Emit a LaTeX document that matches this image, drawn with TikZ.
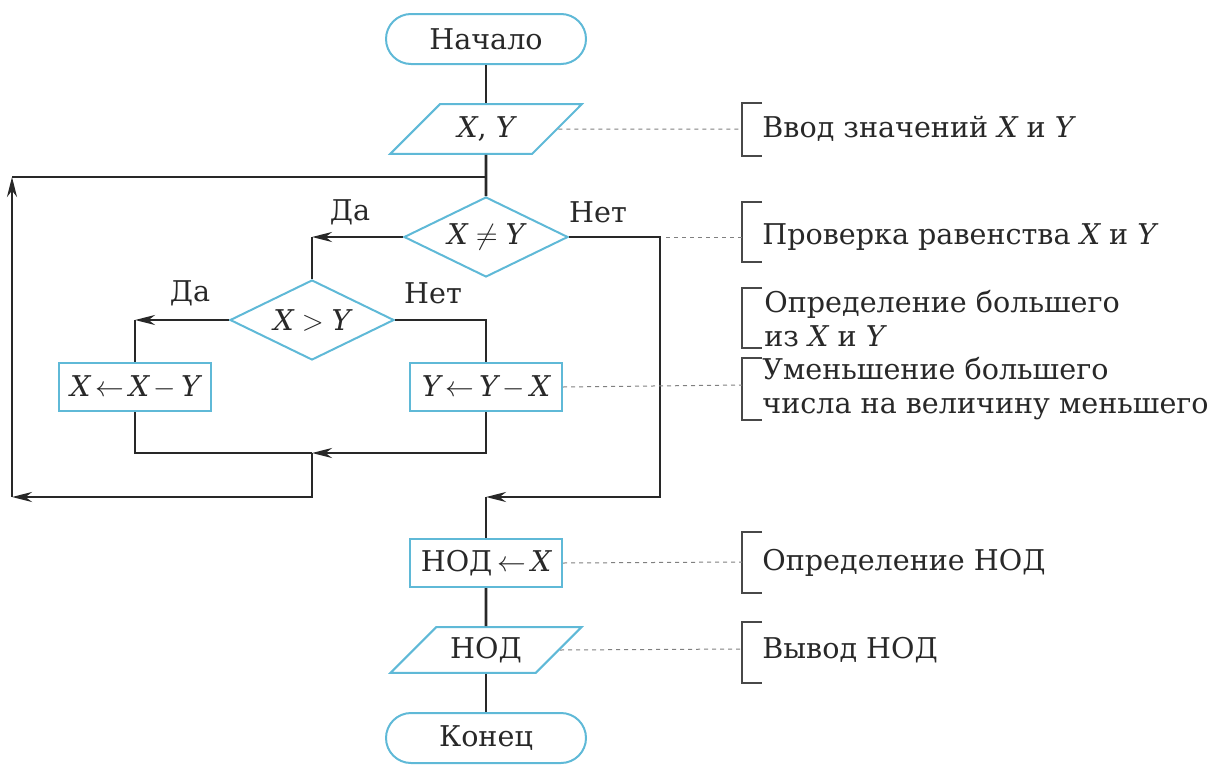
\documentclass[tikz,border=0pt]{standalone}
\usepackage{fontspec}
\setmainfont{DejaVu Serif}
\usetikzlibrary{shapes.geometric, arrows.meta}

\definecolor{shapeblue}{RGB}{95,185,215}
\definecolor{inkgray}{RGB}{40,40,40}

% italic variable names in the text font
\newcommand{\vX}{\mbox{\itshape X}}
\newcommand{\vY}{\mbox{\itshape Y}}

\tikzstyle{startstop} = [rectangle, rounded corners=12.5pt, minimum width=100pt, minimum height=25pt, text centered, draw=shapeblue, line width=1pt]
\tikzstyle{io} = [trapezium, trapezium left angle=45, trapezium right angle=135, minimum width=96pt, minimum height=22.5pt, text centered, draw=shapeblue, line width=1pt]
\tikzstyle{process} = [rectangle, minimum width=76pt, minimum height=24pt, inner sep=2pt, text centered, draw=shapeblue, line width=1pt]
\tikzstyle{decision} = [diamond, aspect=2, minimum width=82pt, minimum height=40pt, inner sep=0pt, text centered, draw=shapeblue, line width=1pt]
\tikzstyle{line} = [draw=inkgray, line width=1.4pt]
\tikzstyle{arrow} = [line, -{Stealth[length=10pt,width=5pt]}]
\tikzstyle{leader} = [draw=gray, line width=0.5pt, dash pattern=on 2pt off 2pt]
\tikzstyle{bracket} = [draw=inkgray!85, line width=1pt]
\tikzstyle{remark} = [anchor=west, align=left, inner sep=0pt]

\begin{document}
\begin{tikzpicture}[x=0.5pt, y=-0.5pt, font=\fontsize{14.3}{17}\selectfont, text=inkgray]
    \useasboundingbox (0,0) rectangle (1215,766);

    % blocks
    \node (start) [startstop] at (486,39) {Начало};
    \node (in) [io] at (486,129) {\vX, \vY};
    \node (neq) [decision] at (486,237) {\vX${}\neq{}$\vY};
    \node (gt) [decision] at (312,320) {\vX${}>{}$\vY};
    \node (subx) [process] at (135,387) {\vX\,$\leftarrow$\,\vX\,$-$\,\vY};
    \node (suby) [process] at (486,387) {\vY\,$\leftarrow$\,\vY\,$-$\,\vX};
    \node (gcd) [process] at (486,563) {НОД\,$\leftarrow$\,\vX};
    \node (out) [io] at (486,650) {НОД};
    \node (stop) [startstop] at (486,738) {Конец};

    % branch labels
    \node (yes1) at (350,212) {Да};
    \node (no1) at (598,212) {Нет};
    \node (yes2) at (190,293) {Да};
    \node (no2) at (433,293) {Нет};

    % corners of the lines
    \coordinate (top) at (486,177);
    \coordinate (ltop) at (12,177);
    \coordinate (lbot) at (12,497);
    \coordinate (cyes1) at (312,237);
    \coordinate (cyes2) at (135,320);
    \coordinate (cno2) at (486,320);
    \coordinate (join) at (312,453);
    \coordinate (cno1) at (660,237);
    \coordinate (exit) at (486,497);

    \draw [line] (start) -- (in);
    \draw [line] (in) -- (neq);
    \draw [arrow] (neq.west) -- (cyes1);
    \draw [line] (cyes1) -- (gt.north);
    \draw [arrow] (gt.west) -- (cyes2);
    \draw [line] (cyes2) -- (subx);
    \draw [line] (gt.east) -- (cno2) -- (suby);
    \draw [line] (subx.south) |- (join);
    \draw [arrow] (suby.south) |- (join);
    \draw [arrow] (join) |- (lbot);
    \draw [arrow] (lbot) -- (ltop);
    \draw [line] (ltop) -- (top);
    \draw [arrow] (neq.east) -- (cno1) |- (exit);
    \draw [line] (exit) -- (gcd);
    \draw [line] (gcd) -- (out);
    \draw [line] (out) -- (stop);

    % remarks
    \node (r1) [remark] at (762,129) {Ввод значений \vX{} и \vY};
    \node (r2) [remark] at (762,237) {Проверка равенства \vX{} и \vY};
    \node (r3) [remark] at (764,319) {Определение большего\\из \vX{} и \vY};
    \node (r4) [remark] at (762,389) {Уменьшение большего\\числа на величину меньшего};
    \node (r5) [remark] at (762,563) {Определение НОД};
    \node (r6) [remark] at (762,650) {Вывод НОД};

    \coordinate (b1) at (742,129);
    \coordinate (b2) at (742,237);
    \coordinate (b4) at (742,385);
    \coordinate (b5) at (742,562);
    \coordinate (b6) at (742,649);

    \draw [bracket] (762,103) -| (742,156) -- (762,156);
    \draw [bracket] (762,202) -| (742,262) -- (762,262);
    \draw [bracket] (762,288) -| (742,348) -- (762,348);
    \draw [bracket] (762,358) -| (742,420) -- (762,420);
    \draw [bracket] (762,532) -| (742,593) -- (762,593);
    \draw [bracket] (762,622) -| (742,683) -- (762,683);

    \draw [leader] (in.east) -- (b1);
    \draw [leader] ([xshift=3pt]cno1) -- (b2);
    \draw [leader] (suby.east) -- (b4);
    \draw [leader] (gcd.east) -- (b5);
    \draw [leader] (out.east) -- (b6);

\end{tikzpicture}
\end{document}
